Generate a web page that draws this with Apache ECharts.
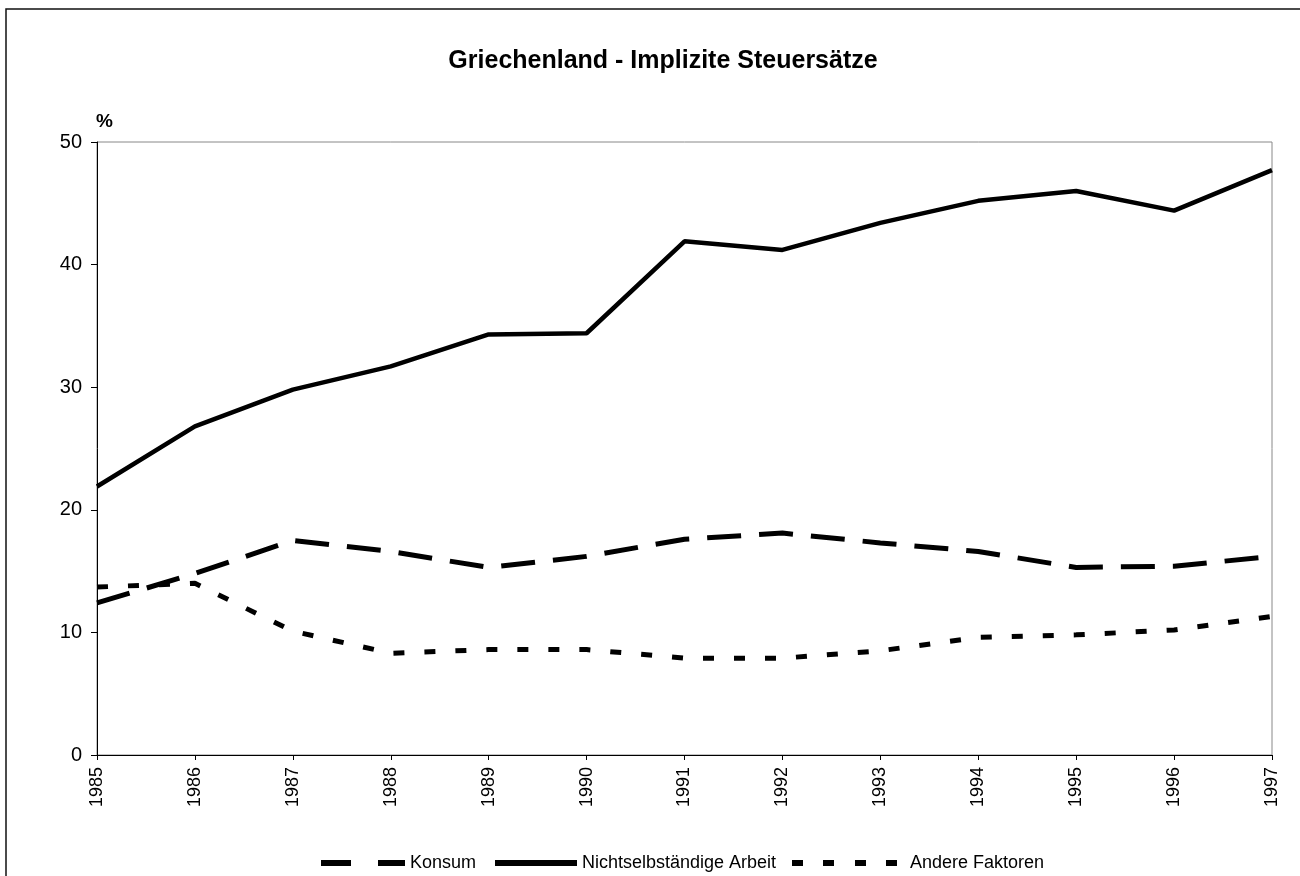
<!DOCTYPE html>
<html>
<head>
<meta charset="utf-8">
<script src="https://cdn.jsdelivr.net/npm/echarts@6/dist/echarts.min.js"></script>
<style>
html,body{margin:0;padding:0;background:#fff;}
#chart{width:1300px;height:876px;}
</style>
</head>
<body>
<div id="chart"></div>
<script>
var years = ['1985','1986','1987','1988','1989','1990','1991','1992','1993','1994','1995','1996','1997'];
var konsum = [12.4, 14.8, 17.5, 16.6, 15.3, 16.2, 17.6, 18.1, 17.3, 16.6, 15.3, 15.4, 16.2];
var arbeit = [21.9, 26.8, 29.8, 31.7, 34.3, 34.4, 41.9, 41.2, 43.4, 45.2, 46.0, 44.4, 47.7];
var andere = [13.7, 14.0, 10.1, 8.3, 8.6, 8.6, 7.9, 7.9, 8.5, 9.6, 9.8, 10.2, 11.3];
var yTicks = [0, 10, 20, 30, 40, 50];

var FONT = '"Liberation Sans", Arial, sans-serif';
var chart = echarts.init(document.getElementById('chart'), null, {renderer: 'canvas'});
var legendText = {color: '#000', fontFamily: FONT, fontSize: 18};
// legend icons (pure styling shapes)
var iconKonsum = 'path://M0,0h30v6h-30z M57,0h27v6h-27z';
var iconSolid = 'path://M0,0h82v6h-82z';
var iconAndere = 'path://M0,0h11v6h-11z M31,0h11v6h-11z M63,0h11v6h-11z M94,0h11v6h-11z M113,0h0.01v0.01h-0.01z';
chart.setOption({
  animation: false,
  backgroundColor: '#fff',
  title: {
    text: 'Griechenland - Implizite Steuersätze',
    left: 658, textAlign: 'center', top: 44,
    textStyle: {fontFamily: FONT, fontSize: 25, fontWeight: 'bold', color: '#000'}
  },
  graphic: [
    {type: 'rect', shape: {x: 6, y: 9, width: 1310, height: 890}, style: {fill: 'none', stroke: '#111', lineWidth: 1.5}, silent: true},
    {type: 'text', left: 96, top: 112, style: {text: '%', font: 'bold 19px ' + FONT, fill: '#000'}}
  ],
  grid: {left: 97, right: 28, top: 142, bottom: 121, show: true, borderColor: '#888', borderWidth: 1, backgroundColor: 'transparent'},
  legend: [
    {data: [{name: 'Konsum', icon: iconKonsum}], left: 316, top: 849, itemWidth: 84, itemHeight: 6, itemGap: 0, textStyle: legendText},
    {data: [{name: 'Nichtselbständige Arbeit', icon: iconSolid}], left: 490, top: 849, itemWidth: 82, itemHeight: 6, itemGap: 0, textStyle: legendText},
    {data: [{name: 'Andere Faktoren', icon: iconAndere}], left: 787, top: 849, itemWidth: 113, itemHeight: 6, itemGap: 0, textStyle: legendText}
  ],
  xAxis: {
    type: 'category', data: years, boundaryGap: false,
    axisLine: {lineStyle: {color: '#000', width: 1}},
    axisTick: {show: true, alignWithLabel: true, length: 5, lineStyle: {color: '#000'}},
    axisLabel: {rotate: 90, color: '#000', fontFamily: FONT, fontSize: 18, margin: 12, interval: 0},
    splitLine: {show: false}
  },
  yAxis: {
    type: 'value', min: yTicks[0], max: yTicks[yTicks.length - 1], interval: 10,
    axisLine: {show: true, lineStyle: {color: '#000', width: 1}},
    axisTick: {show: true, length: 6, lineStyle: {color: '#000'}},
    axisLabel: {color: '#000', fontFamily: FONT, fontSize: 20, margin: 15},
    splitLine: {show: false}
  },
  series: [
    {name: 'Konsum', type: 'line', data: konsum, symbol: 'none', color: '#000',
     lineStyle: {color: '#000', width: 5, type: [34, 18], cap: 'butt'}},
    {name: 'Nichtselbständige Arbeit', type: 'line', data: arbeit, symbol: 'none', color: '#000',
     lineStyle: {color: '#000', width: 4.5, type: 'solid'}},
    {name: 'Andere Faktoren', type: 'line', data: andere, symbol: 'none', color: '#000',
     lineStyle: {color: '#000', width: 5, type: [11, 20], cap: 'butt'}}
  ]
});
</script>
</body>
</html>
